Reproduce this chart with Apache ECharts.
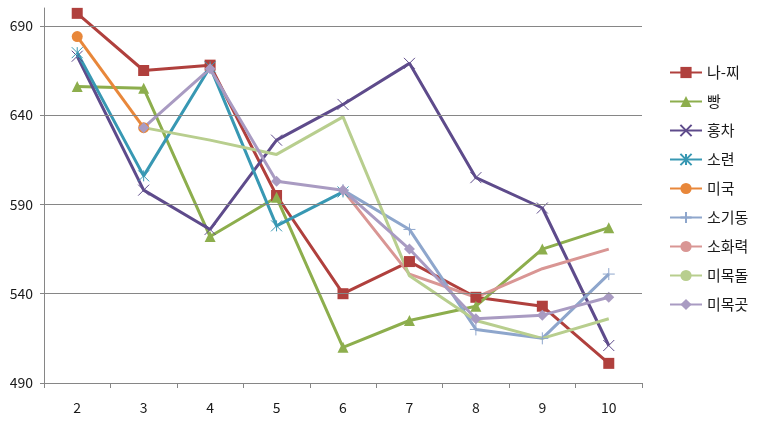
<!DOCTYPE html>
<html><head><meta charset="utf-8">
<script src="https://cdn.jsdelivr.net/npm/echarts@6/dist/echarts.min.js"></script>
<style>html,body{margin:0;padding:0;background:#fff}#c{width:763px;height:425px}</style>
</head><body><div id="c"></div>
<script>
const categories = ['2','3','4','5','6','7','8','9','10'];
const yTicks = [490, 540, 590, 640, 690];
const names = ['나-찌','빵','홍차','소련','미국','소기동','소화력','미목돌','미목곳'];
const s_nazzi  = [697, 665, 668, 595, 540, 558, 538, 533, 501];
const s_bbang   = [656, 655, 572, 594, 510, 525, 533, 565, 577];
const s_hongcha = [673, 598, 576, 626, 646, 669, 605, 588, 511];
const s_soryeon = [675, 606, 667, 578, 597, null, null, null, null];
const s_miguk   = [684, 633, null, null, null, null, null, null, null];
const s_sogidong = [null, null, null, null, 598, 576, 520, 515, 551];
const s_sohwa   = [null, null, null, null, 598, 551, 538, 554, 565];
const s_mokdol  = [null, 633, 626, 618, 639, 550, 525, 515, 526];
const s_mokgot  = [null, 633, 666, 603, 598, 565, 526, 528, 538];

const colors = ['#B0403D','#8DAE4D','#5E4B8B','#3898B3','#E8873A','#8EA6CC','#D99694','#B8CE8E','#A99BC2'];
const crossPath = 'path://M0,0L10,10M10,0L0,10';
const starPath = 'path://M0,0L10,10M10,0L0,10M5,0L5,10';
const plusPath = 'path://M5,0L5,10M0,5L10,5';
const symbols = ['rect','triangle',crossPath,starPath,'circle',plusPath,'none','none','diamond'];
const sizes = [11, 11, 11, 11, 11, 12, 0, 0, 11];
const dataList = [s_nazzi, s_bbang, s_hongcha, s_soryeon, s_miguk, s_sogidong, s_sohwa, s_mokdol, s_mokgot];

const series = names.map((n, i) => {
  const isPath = typeof symbols[i] === 'string' && symbols[i].startsWith('path://');
  return {
    name: n, type: 'line', data: dataList[i], z: 3,
    symbol: symbols[i], symbolSize: sizes[i],
    showSymbol: symbols[i] !== 'none',
    lineStyle: {width: 3, color: colors[i]},
    itemStyle: isPath ? {color: colors[i], borderColor: colors[i], borderWidth: 1} : {color: colors[i]},
    emphasis: {disabled: true},
    animation: false
  };
});
// horizontal gridlines at the tick values, placed by the y scale
series.push({
  type: 'line', data: [], z: 1, silent: true, animation: false,
  markLine: {
    silent: true, symbol: 'none', animation: false,
    label: {show: false},
    lineStyle: {color: '#868686', width: 1, type: 'solid'},
    data: yTicks.slice(1).map(v => ({yAxis: v}))
  }
});

const chart = echarts.init(document.getElementById('c'));
chart.setOption({
  backgroundColor: '#fff',
  animation: false,
  color: colors,
  grid: {left: 44, right: 121, top: 8, bottom: 42},
  legend: {
    orient: 'vertical', left: 664, top: 60,
    itemWidth: 32, itemHeight: 14, itemGap: 14,
    textStyle: {fontFamily: 'Noto Sans CJK KR', fontSize: 15, color: '#1a1a1a', lineHeight: 14},
    data: names
  },
  xAxis: {
    type: 'category', data: categories, boundaryGap: true,
    axisLine: {lineStyle: {color: '#868686', width: 1}},
    axisTick: {show: true, length: 5, alignWithLabel: false, lineStyle: {color: '#868686'}},
    axisLabel: {fontFamily: 'Noto Sans CJK KR', fontSize: 14, color: '#1a1a1a', margin: 18}
  },
  yAxis: {
    type: 'value', min: 490, max: 700,
    axisLine: {show: true, lineStyle: {color: '#868686', width: 1}},
    axisTick: {show: true, length: 4, lineStyle: {color: '#868686'}, customValues: yTicks},
    axisLabel: {fontFamily: 'Noto Sans CJK KR', fontSize: 14, color: '#1a1a1a', margin: 11, customValues: yTicks},
    splitLine: {show: false}
  },
  series: series
});
</script></body></html>
